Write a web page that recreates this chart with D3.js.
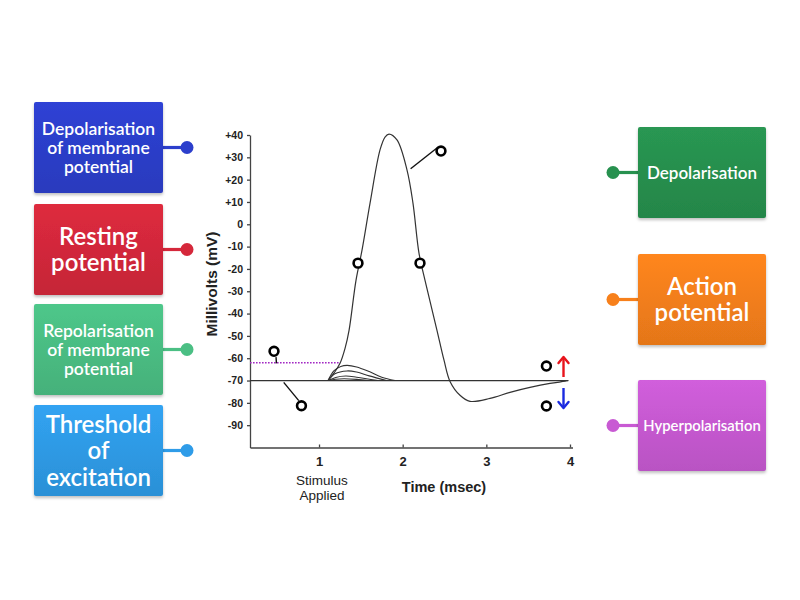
<!DOCTYPE html>
<html>
<head>
<meta charset="utf-8">
<script src="https://cdn.jsdelivr.net/npm/d3@7"></script>
<style>
  html, body { margin: 0; padding: 0; background: #ffffff; }
  svg { display: block; }
</style>
</head>
<body>
<svg id="chart" width="800" height="600"></svg>
<script>
// ---------- data ----------
const yTickValues = [40, 30, 20, 10, 0, -10, -20, -30, -40, -50, -60, -70, -80, -90];
const yTickLabels = ["+40", "+30", "+20", "+10", "0", "-10", "-20", "-30", "-40", "-50", "-60", "-70", "-80", "-90"];
const xTickValues = [1, 2, 3, 4];
const xTickLabels = ["1", "2", "3", "4"];

const restingPotential = -70;
const thresholdPotential = -62;

// action potential trace: [time (ms), membrane potential (mV)]
const actionPotential = [
  [1.108, -70], [1.18, -66.6], [1.251, -62.3], [1.311, -55.6], [1.359, -47.5],
  [1.442, -25.1], [1.514, -11.6], [1.610, 9.5], [1.729, 33.3], [1.789, 39.1],
  [1.837, 40.4], [1.932, 37.8], [2.052, 24.3], [2.123, 9.5], [2.195, -12.9],
  [2.267, -25.1], [2.410, -47.5], [2.494, -60.9], [2.566, -70.4], [2.685, -76.6],
  [2.805, -79.3], [3.044, -78.0], [3.283, -75.3], [3.522, -73.1], [3.761, -71.3],
  [3.940, -70.3], [3.98, -70]
];

// sub-threshold responses
const subThreshold1 = [[1.108, -70], [1.18, -65.6], [1.26, -63.7], [1.335, -63.2], [1.45, -63.9], [1.6, -66.0], [1.75, -68.5], [1.908, -70]];
const subThreshold2 = [[1.108, -70], [1.19, -67.0], [1.335, -65.7], [1.45, -66.2], [1.6, -67.9], [1.809, -70]];
const subThreshold3 = [[1.108, -70], [1.2, -68.6], [1.32, -68.0], [1.45, -68.5], [1.705, -70]];
const subThreshold4 = [[1.108, -70], [1.2, -69.4], [1.3, -69.2], [1.45, -69.5], [1.586, -70]];

// answer-marker circles (time, mV)
const markerPoints = [
  [0.462, -56.9], [0.79, -81.3], [1.466, -17.4], [2.207, -17.4],
  [2.458, 32.8], [3.718, -63.5], [3.718, -81.4]
];
// leader lines [[t1, mV1], [t2, mV2]]
const leaderLines = [
  [[0.486, -59.5], [0.491, -62.3]],
  [[0.758, -79.0], [0.578, -70.8]],
  [[2.425, 34.6], [2.095, 24.9]]
];

// label boxes
const leftLabels = [
  ["Depolarisation", "of membrane", "potential"],
  ["Resting", "potential"],
  ["Repolarisation", "of membrane", "potential"],
  ["Threshold", "of", "excitation"]
];
const leftColors = ["#2c3fcc", "#d5283b", "#4bbf84", "#2f9ce8"];
const rightLabels = [
  ["Depolarisation"],
  ["Action", "potential"],
  ["Hyperpolarisation"]
];
const rightColors = ["#27914f", "#f7801b", "#c85ad3"];

// ---------- drawing ----------
const svg = d3.select("#chart");
const defs = svg.append("defs");

const shadow = defs.append("filter").attr("id", "shadow")
  .attr("x", "-10%").attr("y", "-10%").attr("width", "120%").attr("height", "130%");
shadow.append("feDropShadow").attr("dx", 0).attr("dy", 2).attr("stdDeviation", 1.5)
  .attr("flood-color", "#000").attr("flood-opacity", 0.25);

function gradientFor(id, color) {
  const g = defs.append("linearGradient").attr("id", id)
    .attr("x1", 0).attr("y1", 0).attr("x2", 0).attr("y2", 1);
  const c = d3.color(color);
  g.append("stop").attr("offset", "0%").attr("stop-color", c.brighter(0.12).formatHex());
  g.append("stop").attr("offset", "100%").attr("stop-color", c.darker(0.22).formatHex());
  return "url(#" + id + ")";
}

const x = d3.scaleLinear().domain([0.175, 4.03]).range([250, 572.5]);
const y = d3.scaleLinear().domain([-100, 40]).range([447.5, 135]);

const axisColor = "#444";
const labelFont = "Liberation Sans, Arial, sans-serif";
const chart = svg.append("g");

// y axis
const yAxis = chart.append("g").attr("transform", "translate(250,0)")
  .call(d3.axisLeft(y).tickValues(yTickValues)
    .tickFormat((d, i) => yTickLabels[i]).tickSize(3).tickSizeOuter(0).tickPadding(4));
yAxis.selectAll("path, line").attr("stroke", axisColor).attr("stroke-width", 1.3);
yAxis.selectAll("text").attr("font-family", labelFont)
  .attr("font-size", 10.5).attr("font-weight", "bold").attr("fill", "#222");

// x axis
const xAxis = chart.append("g").attr("transform", "translate(0,447.5)")
  .call(d3.axisBottom(x).tickValues(xTickValues)
    .tickFormat((d, i) => xTickLabels[i]).tickSize(-3).tickSizeOuter(0).tickPadding(9));
xAxis.selectAll("path, line").attr("stroke", axisColor).attr("stroke-width", 1.3);
xAxis.selectAll("text").attr("font-family", labelFont)
  .attr("font-size", 13).attr("font-weight", "bold").attr("fill", "#222");

// axis titles
chart.append("text").attr("transform", "translate(217,284) rotate(-90)")
  .attr("text-anchor", "middle").attr("font-family", labelFont)
  .attr("font-size", 15.5).attr("font-weight", "bold").attr("fill", "#222")
  .text("Millivolts (mV)");
chart.append("text").attr("x", 444).attr("y", 492)
  .attr("text-anchor", "middle").attr("font-family", labelFont)
  .attr("font-size", 14.5).attr("font-weight", "bold").attr("fill", "#222")
  .text("Time (msec)");
const stim = chart.append("text").attr("text-anchor", "middle")
  .attr("font-family", labelFont).attr("font-size", 13.5).attr("fill", "#222");
stim.append("tspan").attr("x", 322).attr("y", 485).text("Stimulus");
stim.append("tspan").attr("x", 322).attr("y", 500).text("Applied");

// resting line
chart.append("line")
  .attr("x1", x(0.175)).attr("x2", x(3.98))
  .attr("y1", y(restingPotential)).attr("y2", y(restingPotential))
  .attr("stroke", "#333").attr("stroke-width", 1.2);

// threshold dotted line
chart.append("line")
  .attr("x1", x(0.175)).attr("x2", x(1.251))
  .attr("y1", y(thresholdPotential)).attr("y2", y(thresholdPotential))
  .attr("stroke", "#a228c4").attr("stroke-width", 1.6).attr("stroke-dasharray", "1.6,1.4");

const line = d3.line().x(d => x(d[0])).y(d => y(d[1])).curve(d3.curveCatmullRom.alpha(0.5));

[subThreshold1, subThreshold2, subThreshold3, subThreshold4].forEach(s => {
  chart.append("path").attr("d", line(s)).attr("fill", "none")
    .attr("stroke", "#333").attr("stroke-width", 1.1);
});
chart.append("path").attr("d", line(actionPotential)).attr("fill", "none")
  .attr("stroke", "#333").attr("stroke-width", 1.2);

// leader lines
leaderLines.forEach(l => {
  chart.append("line")
    .attr("x1", x(l[0][0])).attr("y1", y(l[0][1]))
    .attr("x2", x(l[1][0])).attr("y2", y(l[1][1]))
    .attr("stroke", "#111").attr("stroke-width", 1.4);
});

// marker circles
chart.selectAll("circle.marker").data(markerPoints).join("circle")
  .attr("class", "marker")
  .attr("cx", d => x(d[0])).attr("cy", d => y(d[1])).attr("r", 4.4)
  .attr("fill", "#fff").attr("stroke", "#000").attr("stroke-width", 2.6);

// arrows
function arrow(xp, y1, y2, color) {
  const dir = y2 < y1 ? -1 : 1;
  chart.append("line").attr("x1", xp).attr("x2", xp).attr("y1", y1).attr("y2", y2 - dir * 1)
    .attr("stroke", color).attr("stroke-width", 2.4);
  chart.append("path")
    .attr("d", `M${xp - 5},${y2 - dir * 6} L${xp},${y2} L${xp + 5},${y2 - dir * 6}`)
    .attr("fill", "none").attr("stroke", color).attr("stroke-width", 2.4)
    .attr("stroke-linecap", "round").attr("stroke-linejoin", "round");
}
arrow(563.5, 377, 357, "#e8141c");
arrow(563.5, 388, 408, "#1a2ae0");

// ---------- label boxes ----------
const boxFont = "Lato, 'Noto Sans', sans-serif";
function drawBox(bx, by, bw, bh, color, lines, side, dotX, fontSize, lineGap, id) {
  const g = svg.append("g");
  const cy = by + bh / 2;
  const edgeX = side === "left" ? bx + bw : bx;
  g.append("line").attr("x1", edgeX).attr("x2", dotX).attr("y1", cy).attr("y2", cy)
    .attr("stroke", color).attr("stroke-width", 3.2);
  g.append("circle").attr("cx", dotX).attr("cy", cy).attr("r", 6.5).attr("fill", color);
  g.append("rect").attr("x", bx).attr("y", by).attr("width", bw).attr("height", bh)
    .attr("rx", 2).attr("fill", gradientFor(id, color)).attr("filter", "url(#shadow)");
  const n = lines.length;
  const t = g.append("text").attr("text-anchor", "middle").attr("fill", "#fff")
    .attr("font-family", boxFont).attr("font-size", fontSize).attr("font-weight", 600);
  lines.forEach((s, i) => {
    t.append("tspan").attr("x", bx + bw / 2)
      .attr("y", cy + (i - (n - 1) / 2) * lineGap)
      .attr("dy", "0.36em").text(s);
  });
}

const leftBoxY = [102, 204, 304, 405];
const leftFont = [17.5, 24, 17.5, 24];
const leftGap = [19, 26.5, 19, 26.5];
leftLabels.forEach((l, i) => {
  drawBox(34, leftBoxY[i], 129, 91, leftColors[i], l, "left", 187, leftFont[i], leftGap[i], "gl" + i);
});

const rightBoxY = [127, 254, 380];
const rightFont = [17, 24, 14.8];
const rightGap = [19, 26.5, 19];
rightLabels.forEach((l, i) => {
  drawBox(638, rightBoxY[i], 128, 91, rightColors[i], l, "right", 613, rightFont[i], rightGap[i], "gr" + i);
});
</script>
</body>
</html>
